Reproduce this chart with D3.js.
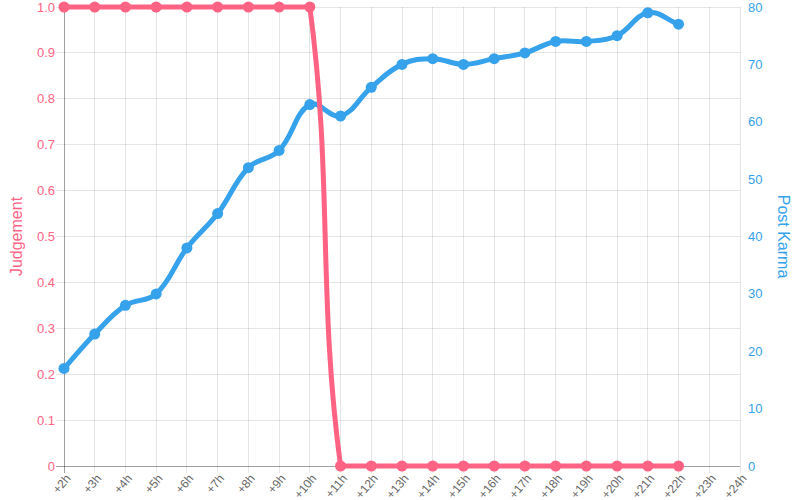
<!DOCTYPE html>
<html>
<head>
<meta charset="utf-8">
<script src="https://cdn.jsdelivr.net/npm/d3@7"></script>
<style>
  body { margin: 0; background: #fff; }
  text { font-family: "Liberation Sans", Arial, sans-serif; }
</style>
</head>
<body>
<div id="chart"></div>
<script>
const width = 800
const height = 500

// hours after posting
const labels = ["+2h","+3h","+4h","+5h","+6h","+7h","+8h","+9h","+10h","+11h","+12h","+13h",
  "+14h","+15h","+16h","+17h","+18h","+19h","+20h","+21h","+22h","+23h","+24h"]
const judgement = [1,1,1,1,1,1,1,1,1,0,0,0,0,0,0,0,0,0,0,0,0]
const karma = [17,23,28,30,38,44,52,55,63,61,66,70,71,70,71,72,74,74,75,79,77]
const judgementTicks = [0,0.1,0.2,0.3,0.4,0.5,0.6,0.7,0.8,0.9,1.0]
const karmaTicks = [0,10,20,30,40,50,60,70,80]

const red = "rgb(255,99,132)"
const blue = "rgb(54,162,235)"

const areaL = 64, areaR = 740, areaT = 7, areaB = 466

const x = d3.scalePoint().domain(labels).range([areaL, areaR])
const yL = d3.scaleLinear().domain([0, 1]).range([areaB, areaT])
const yR = d3.scaleLinear().domain([0, 80]).range([areaB, areaT])

const svg = d3.select("#chart").append("svg")
  .attr("width", width)
  .attr("height", height)

// grid
svg.append("g").selectAll("line")
  .data(labels)
  .join("line")
    .attr("x1", d => x(d)).attr("x2", d => x(d))
    .attr("y1", areaT).attr("y2", areaB + 7)
    .attr("stroke", "rgba(0,0,0,0.1)")
    .attr("shape-rendering", "crispEdges")

svg.append("g").selectAll("line")
  .data(judgementTicks)
  .join("line")
    .attr("x1", areaL - 8).attr("x2", areaR)
    .attr("y1", d => yL(d)).attr("y2", d => yL(d))
    .attr("stroke", "rgba(0,0,0,0.1)")
    .attr("shape-rendering", "crispEdges")

// axis lines
svg.append("line")
  .attr("x1", areaL).attr("x2", areaL).attr("y1", areaT).attr("y2", areaB + 7)
  .attr("stroke", "rgba(0,0,0,0.3)").attr("shape-rendering", "crispEdges")
svg.append("line")
  .attr("x1", areaL - 8).attr("x2", areaR).attr("y1", areaB).attr("y2", areaB)
  .attr("stroke", "rgba(0,0,0,0.3)").attr("shape-rendering", "crispEdges")

// tick labels
svg.append("g").selectAll("text")
  .data(judgementTicks)
  .join("text")
    .attr("x", areaL - 9)
    .attr("y", d => yL(d))
    .attr("dy", "0.35em")
    .attr("text-anchor", "end")
    .attr("font-size", 13)
    .attr("fill", red)
    .text(d => d === 0 ? "0" : d3.format(".1f")(d))

svg.append("g").selectAll("text")
  .data(karmaTicks)
  .join("text")
    .attr("x", areaR + 8)
    .attr("y", d => yR(d))
    .attr("dy", "0.35em")
    .attr("font-size", 13)
    .attr("fill", blue)
    .text(d => d)

svg.append("g").selectAll("text")
  .data(labels)
  .join("text")
    .attr("transform", d => `translate(${x(d) + 4},${areaB + 10}) rotate(-50)`)
    .attr("dy", "0.35em")
    .attr("text-anchor", "end")
    .attr("font-size", 12)
    .attr("fill", "#666")
    .text(d => d)

// axis titles
svg.append("text")
  .attr("transform", `translate(22,${(areaT + areaB) / 2}) rotate(-90)`)
  .attr("text-anchor", "middle")
  .attr("font-size", 16)
  .attr("fill", red)
  .text("Judgement")

svg.append("text")
  .attr("transform", `translate(778,${(areaT + areaB) / 2}) rotate(90)`)
  .attr("text-anchor", "middle")
  .attr("font-size", 16)
  .attr("fill", blue)
  .text("Post Karma")

// spline like chart.js (tension 0.4, control points kept inside the area)
const splinePath = (pts, t) => {
  const clampX = v => Math.max(areaL, Math.min(areaR, v))
  const clampY = v => Math.max(areaT, Math.min(areaB, v))
  const cps = pts.map((p, i) => {
    const prev = pts[i - 1] || p
    const next = pts[i + 1] || p
    const d01 = Math.hypot(p[0] - prev[0], p[1] - prev[1])
    const d12 = Math.hypot(next[0] - p[0], next[1] - p[1])
    let s01 = d01 / (d01 + d12), s12 = d12 / (d01 + d12)
    if (isNaN(s01)) s01 = 0
    if (isNaN(s12)) s12 = 0
    const fa = t * s01, fb = t * s12
    return {
      prev: [clampX(p[0] - fa * (next[0] - prev[0])), clampY(p[1] - fa * (next[1] - prev[1]))],
      next: [clampX(p[0] + fb * (next[0] - prev[0])), clampY(p[1] + fb * (next[1] - prev[1]))]
    }
  })
  const path = d3.path()
  path.moveTo(pts[0][0], pts[0][1])
  for (let i = 1; i < pts.length; i++) {
    const a = cps[i - 1].next, b = cps[i].prev
    path.bezierCurveTo(a[0], a[1], b[0], b[1], pts[i][0], pts[i][1])
  }
  return path.toString()
}

const drawSeries = (values, yScale, color) => {
  const pts = values.map((v, i) => [x(labels[i]), yScale(v)])
  svg.append("path")
    .attr("d", splinePath(pts, 0.4))
    .attr("fill", "none")
    .attr("stroke", color)
    .attr("stroke-width", 5)
    .attr("stroke-linejoin", "round")
  svg.append("g").selectAll("circle")
    .data(pts)
    .join("circle")
      .attr("cx", d => d[0])
      .attr("cy", d => d[1])
      .attr("r", 5.5)
      .attr("fill", color)
}

drawSeries(karma, yR, blue)
drawSeries(judgement, yL, red)
</script>
</body>
</html>
